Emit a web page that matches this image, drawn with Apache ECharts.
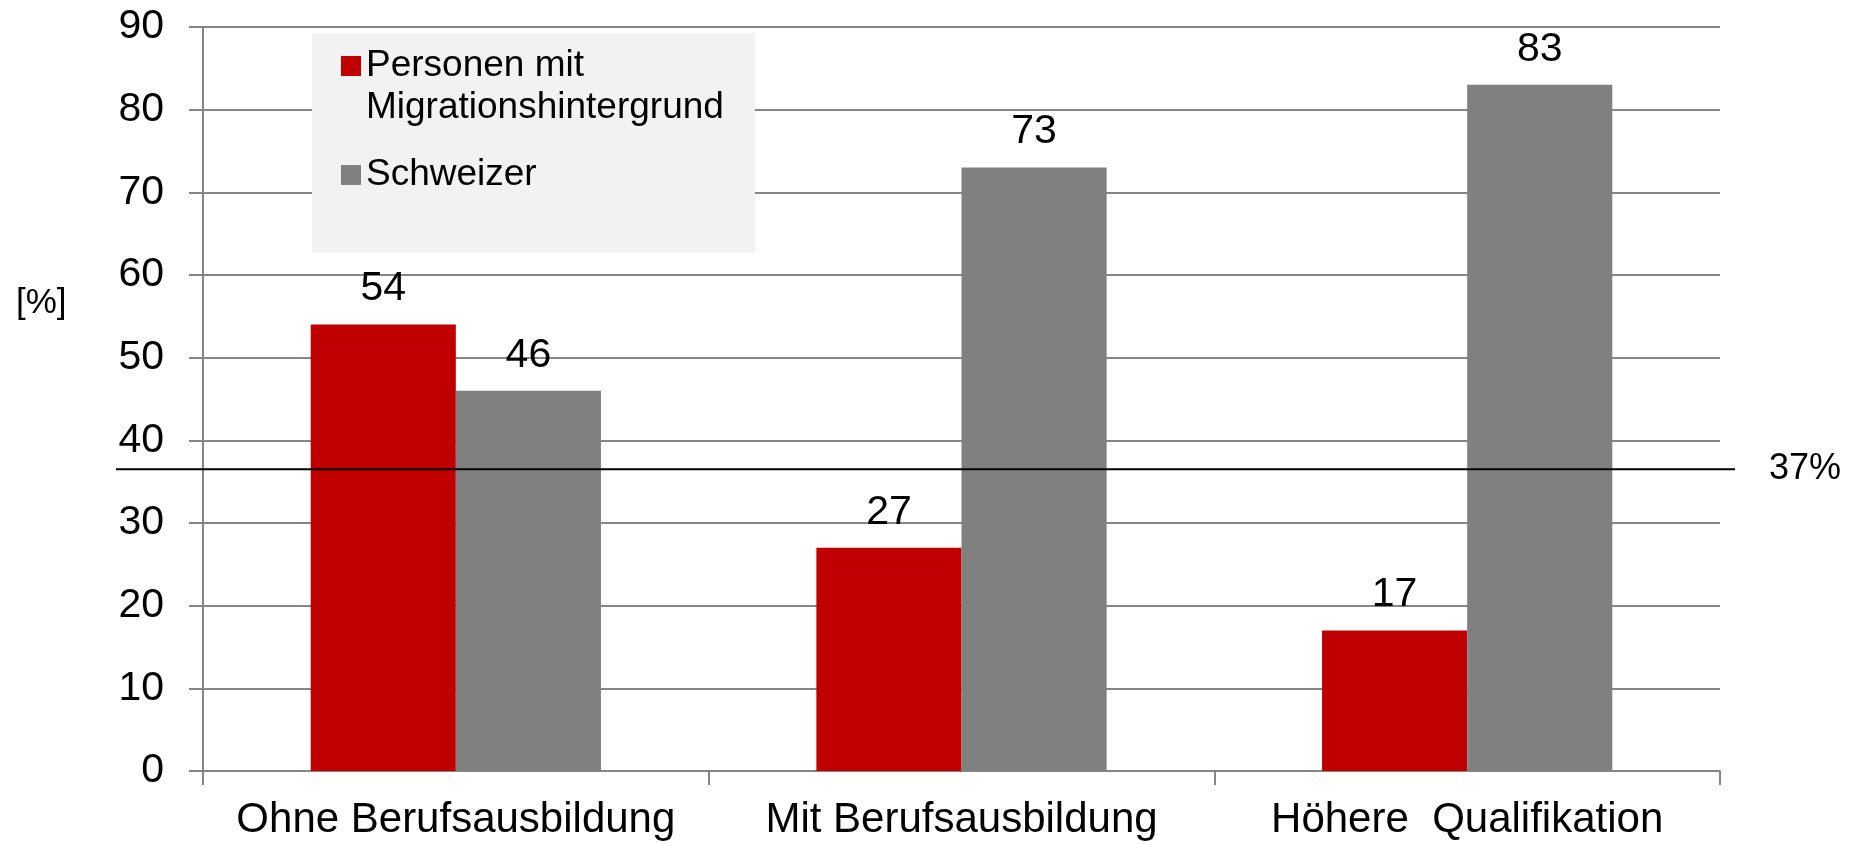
<!DOCTYPE html>
<html>
<head>
<meta charset="utf-8">
<script src="https://cdn.jsdelivr.net/npm/echarts@6/dist/echarts.min.js"></script>
<style>
html,body{margin:0;padding:0;background:#fff;}
#c{width:1861px;height:845px;}
</style>
</head>
<body>
<div id="c"></div>
<script>
// ---- data ----
const categories = ['Ohne Berufsausbildung', 'Mit Berufsausbildung', 'Höhere  Qualifikation'];
const seriesNames = ['Personen mit Migrationshintergrund', 'Schweizer'];
const migrationValues = [54, 27, 17];
const schweizerValues = [46, 73, 83];
const averageValue = 36.5;
const averageLabel = '37%';
const yTicks = [0, 10, 20, 30, 40, 50, 60, 70, 80, 90];
const unitLabel = '[%]';

const FONT = '"Liberation Sans", Arial, sans-serif';
const GRID_COLOR = '#868686';

const chart = echarts.init(document.getElementById('c'), null, {renderer: 'canvas'});

const option = {
  animation: false,
  backgroundColor: '#ffffff',
  textStyle: {fontFamily: FONT},
  title: {
    text: unitLabel,
    left: 16,
    top: 286,
    padding: 0,
    textStyle: {fontFamily: FONT, fontSize: 35, fontWeight: 'normal', color: '#000'}
  },
  legend: {
    orient: 'vertical',
    left: 312,
    top: 33,
    padding: [12, 31, 36, 29],
    itemGap: 4,
    itemWidth: 20,
    itemHeight: 84,
    selectedMode: false,
    backgroundColor: '#f2f2f2',
    formatter: function (name) {
      return name === seriesNames[0] ? 'Personen mit\nMigrationshintergrund' : name;
    },
    textStyle: {fontFamily: FONT, fontSize: 37, lineHeight: 42, color: '#000'},
    data: [
      {name: seriesNames[0], icon: 'path://M0,0M0,0.55H1V1.55H0ZM0,4.2'},
      {name: seriesNames[1], icon: 'path://M0,0M0,1.6H1V2.6H0ZM0,4.2'}
    ]
  },
  grid: [
    {left: 203, right: 141, top: 27, bottom: 74, containLabel: false},
    {left: 116, right: 126, top: 27, bottom: 74, containLabel: false}
  ],
  xAxis: [
    {
      type: 'category',
      gridIndex: 0,
      data: categories,
      axisLine: {show: true, lineStyle: {color: GRID_COLOR, width: 2}},
      axisTick: {show: true, length: 14, lineStyle: {color: GRID_COLOR, width: 2}},
      axisLabel: {fontFamily: FONT, fontSize: 42, color: '#000', margin: 28, interval: 0}
    },
    {
      type: 'value', gridIndex: 1, min: 0, max: 1, show: false
    }
  ],
  yAxis: [
    {
      type: 'value',
      gridIndex: 0,
      min: yTicks[0],
      max: yTicks[yTicks.length - 1],
      interval: yTicks[1] - yTicks[0],
      axisLine: {show: true, lineStyle: {color: GRID_COLOR, width: 2}},
      axisTick: {show: true, length: 14, lineStyle: {color: GRID_COLOR, width: 2}},
      splitLine: {show: true, lineStyle: {color: GRID_COLOR, width: 2}},
      axisLabel: {fontFamily: FONT, fontSize: 41, color: '#000', margin: 39}
    },
    {
      type: 'value', gridIndex: 1,
      min: yTicks[0], max: yTicks[yTicks.length - 1], show: false
    }
  ],
  series: [
    {
      name: seriesNames[0],
      type: 'bar',
      xAxisIndex: 0, yAxisIndex: 0,
      data: migrationValues,
      barGap: '0%',
      barCategoryGap: '42.6%',
      itemStyle: {color: '#c00000'},
      label: {show: true, position: 'top', distance: 15, fontFamily: FONT, fontSize: 41, color: '#000'}
    },
    {
      name: seriesNames[1],
      type: 'bar',
      xAxisIndex: 0, yAxisIndex: 0,
      data: schweizerValues,
      barGap: '0%',
      barCategoryGap: '42.6%',
      itemStyle: {color: '#808080'},
      label: {show: true, position: 'top', distance: 15, fontFamily: FONT, fontSize: 41, color: '#000'}
    },
    {
      name: 'avg',
      type: 'line',
      xAxisIndex: 1, yAxisIndex: 1,
      data: [[0, averageValue], [1, averageValue]],
      symbol: 'none',
      silent: true,
      z: 10,
      lineStyle: {color: '#000', width: 2},
      endLabel: {
        show: true,
        formatter: averageLabel,
        distance: 34,
        fontFamily: FONT,
        fontSize: 36,
        color: '#000'
      }
    }
  ]
};

chart.setOption(option);
</script>
</body>
</html>
